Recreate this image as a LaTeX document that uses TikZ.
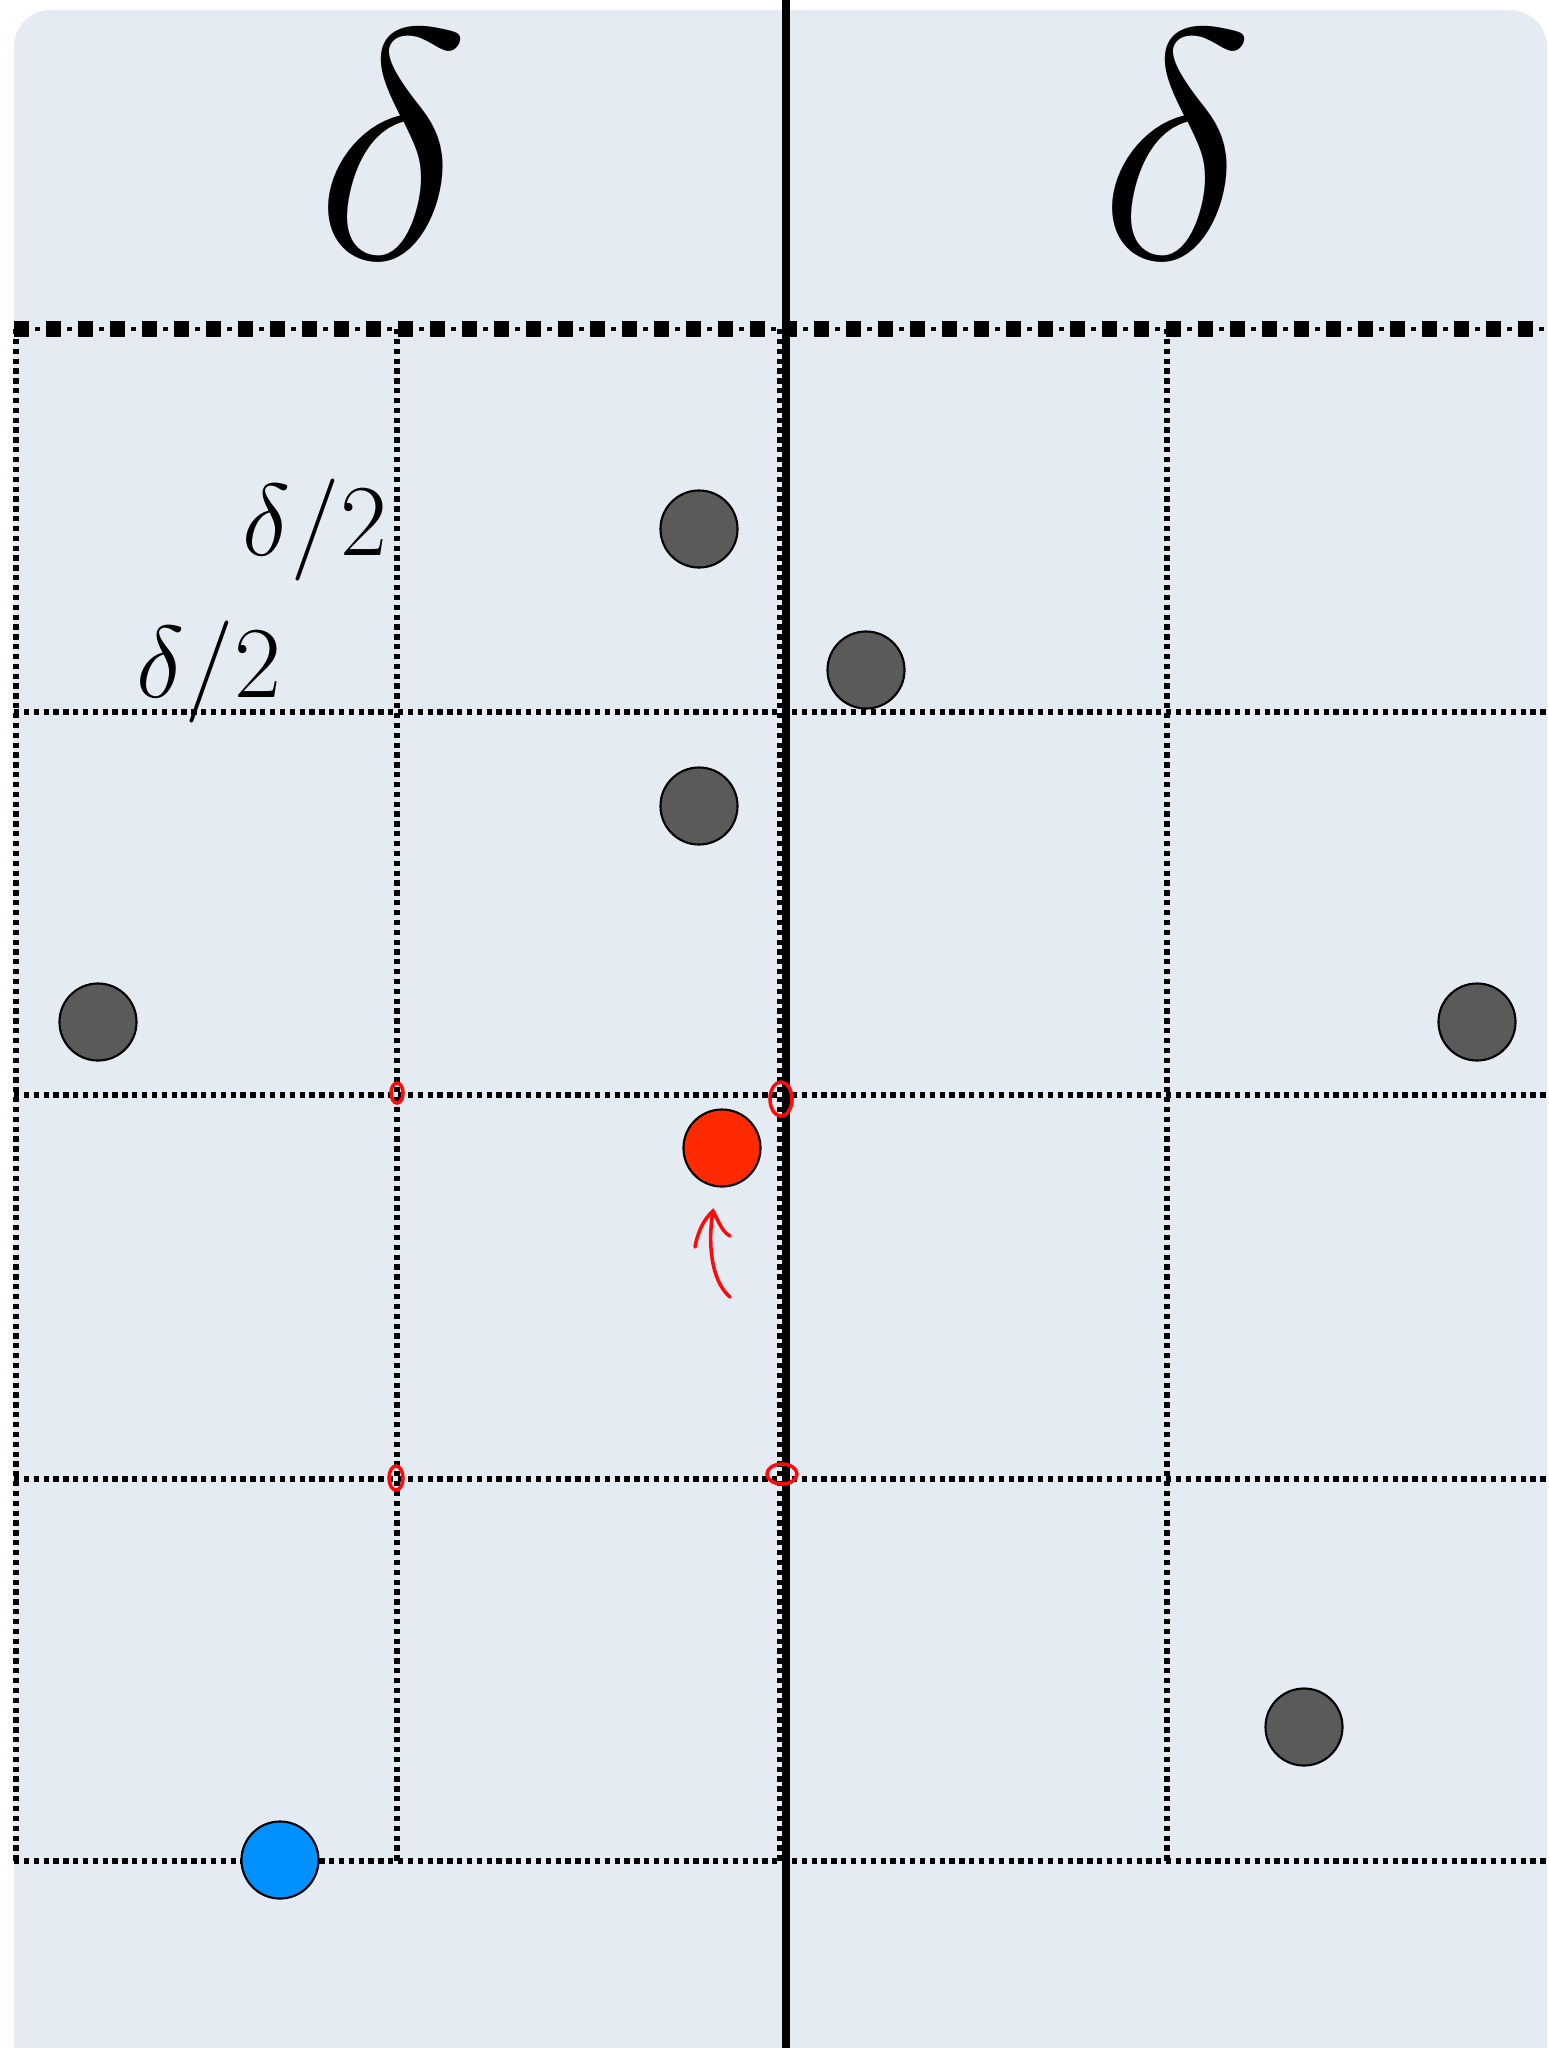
\RequirePackage{fix-cm}
\documentclass[tikz,border=0pt]{standalone}
\usepackage{xcolor}
\usepackage{tikz}
\usetikzlibrary{arrows.meta, positioning}
\definecolor{panelbg}{RGB}{228,235,242}
\definecolor{pointgray}{RGB}{90,90,90}
\definecolor{pointred}{RGB}{255,42,0}
\definecolor{pointblue}{RGB}{0,145,255}
\definecolor{markred}{RGB}{255,10,10}

\begin{document}
\begin{tikzpicture}[
  x=0.01cm, y=-0.01cm,
  point/.style={circle, draw, line width=0.6pt, minimum size=0.77cm, inner sep=0pt},
  gridline/.style={line width=1.6pt, dash pattern=on 1.5pt off 1.3pt},
  stripline/.style={line width=4.3pt, dash pattern=on 4.3pt off 4.8pt},
  stripdot/.style={line width=1.4pt, dash pattern=on 1.4pt off 7.7pt, dash phase=3.1pt},
  bigdelta/.style={font=\fontsize{93}{93}\selectfont, inner sep=0pt, anchor=base},
  halflabel/.style={font=\fontsize{29}{29}\selectfont, inner sep=0pt},
  redmark/.style={draw=markred, line width=1pt, line cap=round}
]
  \useasboundingbox (0,0) rectangle (1548,2048);
  \clip (0,0) rectangle (1548,2048);
  \fill[panelbg, rounded corners=0.37cm] (14,10) rectangle (1547,2100);

  \foreach \y in {712,1095,1479,1861}
    \draw[gridline] (14,\y) -- (1548,\y);
  \foreach \x in {16,397,780,1167}
    \draw[gridline] (\x,329) -- (\x,1861);

  \draw[stripline] (14,329) -- (1548,329);
  \draw[stripdot] (14,329) -- (1548,329);
  \draw[line width=2pt] (786,0) -- (786,2048);

  \node[bigdelta] (dleft)  at (393,258)  {$\delta$};
  \node[bigdelta] (dright) at (1177,258) {$\delta$};
  \node[halflabel] (hupper) at (315,530) {$\delta/2$};
  \node[halflabel] (hlower) at (209,672) {$\delta/2$};

  \node[point, fill=pointgray] (p1) at (699,529)   {};
  \node[point, fill=pointgray] (p2) at (866,670)   {};
  \node[point, fill=pointgray] (p3) at (699,806)   {};
  \node[point, fill=pointgray] (p4) at (98,1022)   {};
  \node[point, fill=pointgray] (p5) at (1477,1022) {};
  \node[point, fill=pointgray] (p6) at (1304,1727) {};
  \node[point, fill=pointred]  (query) at (722,1148) {};
  \node[point, fill=pointblue] (start) at (280,1860) {};

  \coordinate (tail) at (730,1297);
  \coordinate (tip) at (713,1211);
  \draw[redmark] (tail) .. controls (710,1280) and (708,1240) .. (tip);
  \draw[redmark] (695,1247) .. controls (698,1230) and (705,1218) .. (tip)
              .. controls (718,1220) and (722,1232) .. (730,1236);

  \draw[redmark] (397,1093) ellipse [x radius=6, y radius=10];
  \draw[redmark] (781,1099) ellipse [x radius=11, y radius=17];
  \draw[redmark] (396,1478) ellipse [x radius=7, y radius=12];
  \draw[redmark] (782,1474) ellipse [x radius=15, y radius=10];
\end{tikzpicture}
\end{document}
